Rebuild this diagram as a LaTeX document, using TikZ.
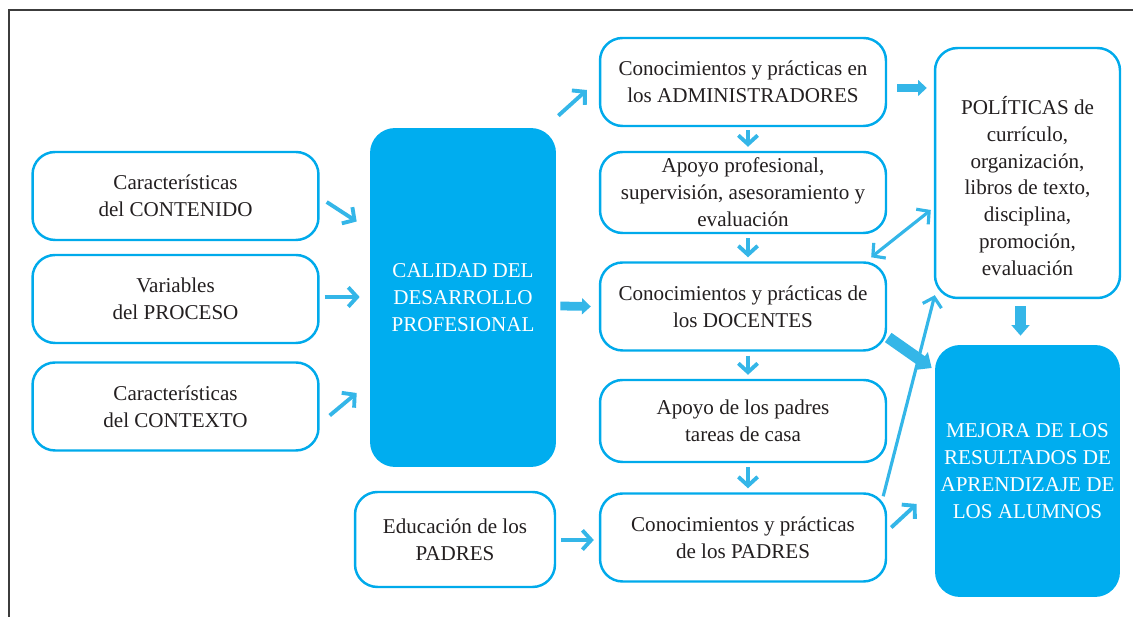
\documentclass[tikz,border=0pt]{standalone}
\usepackage{fontspec}
\setmainfont{Liberation Serif}
\usepackage{xcolor}
\usepackage{tikz}
\usetikzlibrary{arrows.meta,calc}
\definecolor{boxblue}{RGB}{0,170,235}
\definecolor{fillblue}{RGB}{0,173,239}
\definecolor{arrowblue}{RGB}{52,182,232}
\definecolor{textgray}{RGB}{35,31,32}
\definecolor{framegray}{RGB}{60,60,60}

\begin{document}
\begin{tikzpicture}[x=0.02cm,y=-0.02cm,
  font=\fontsize{12}{15.3}\selectfont,
  box/.style={draw=boxblue,line width=1.4pt,rounded corners=0.45cm,fill=white,
    text=textgray,align=center,inner sep=2pt,minimum width=5.72cm,minimum height=1.76cm},
  bigbox/.style={fill=fillblue,rounded corners=0.5cm,text=white,align=center,inner sep=2pt},
  arr/.style={draw=arrowblue,line width=2.2pt,-{Straight Barb[length=5pt,width=11pt]}},
  dblarr/.style={draw=arrowblue,line width=1.8pt,{Straight Barb[length=5pt,width=11pt]}-{Straight Barb[length=5pt,width=11pt]}},
  fatarr/.style={draw=arrowblue,line width=5pt,-{Triangle[length=5pt,width=9pt]}}]
\useasboundingbox (0,0) rectangle (1133,617);
\draw[framegray,line width=0.9pt] (1133,10) -- (9,10) -- (9,617);

\node[box] (cont) at (175.5,196) {Características\\del CONTENIDO};
\node[box] (proc) at (175.5,299) {Variables\\del PROCESO};
\node[box] (ctx) at (175.5,406.5) {Características\\del CONTEXTO};
\node[bigbox,minimum width=3.72cm,minimum height=6.78cm] (cal) at (463,297.5) {CALIDAD DEL\\DESARROLLO\\PROFESIONAL};
\node[box,minimum width=4cm,minimum height=1.9cm] (edu) at (455,539.5) {Educación de los\\PADRES};

\node[box] (adm) at (743,82) {Conocimientos y prácticas en\\los ADMINISTRADORES};
\node[box,minimum height=1.62cm] (apo) at (743,192.5) {Apoyo profesional,\\supervisión, asesoramiento y\\evaluación};
\node[box] (doc) at (743,306.5) {Conocimientos y prácticas de\\los DOCENTES};
\node[box,minimum height=1.64cm] (pad) at (743,421) {Apoyo de los padres\\tareas de casa};
\node[box] (cpa) at (743,537.5) {Conocimientos y prácticas\\de los PADRES};

\node[box,minimum width=3.7cm,minimum height=5cm,
  label={[text=textgray,align=center,yshift=-0.26cm]center:POLÍTICAS de\\currículo,\\organización,\\libros de texto,\\disciplina,\\promoción,\\evaluación}] (pol) at (1027.5,173) {};
\node[bigbox,minimum width=3.7cm,minimum height=5.04cm] (mej) at (1027.5,471) {MEJORA DE LOS\\RESULTADOS DE\\APRENDIZAJE DE\\LOS ALUMNOS};

\draw[arr] ($(cont.east)+(7,6)$) -- ($(cal.west)+(-13,-76)$);
\draw[arr] ($(proc.east)+(5,-2)$) -- ($(cal.west)+(-10,-0.5)$);
\draw[arr] ($(ctx.east)+(10,9)$) -- ($(cal.west)+(-13,95.5)$);
\draw[fatarr] ($(cal.east)+(4,8.5)$) -- ($(doc.west)+(-8,0)$);
\draw[arr] ($(cal.north east)+(2,-12)$) -- ($(adm.west)+(-12,8)$);
\draw[arr] ($(adm.south)+(5,3)$) -- ($(apo.north)+(5,-4)$);
\draw[arr] ($(apo.south)+(5,4)$) -- ($(doc.north)+(5,-4)$);
\draw[arr] ($(doc.south)+(5,4)$) -- ($(pad.north)+(5,-4)$);
\draw[arr] ($(pad.south)+(5,4)$) -- ($(cpa.north)+(5,-4)$);
\draw[arr] ($(edu.east)+(5,0.5)$) -- ($(cpa.west)+(-5,2.5)$);
\draw[fatarr] ($(adm.east)+(10,6)$) -- ($(pol.west)+(-7,-85)$);
\draw[dblarr] ($(doc.north east)+(-16,-4)$) -- ($(pol.west)+(-3,37)$);
\draw[fatarr,line width=6.5pt,-{Triangle[length=7pt,width=12pt]}] ($(doc.east)+(1,31)$) -- ($(mej.west)+(-3,-103)$);
\draw[arr,line width=1.8pt] ($(cpa.north east)+(-4,4)$) -- ($(pol.south west)+(1,-4)$);
\draw[arr] ($(cpa.east)+(4,-10)$) -- ($(mej.west)+(-18,33)$);
\draw[fatarr,line width=6pt,-{Triangle[length=6pt,width=10pt]}] ($(pol.south)+(-7,7)$) -- ($(mej.north)+(-7,-9)$);
\end{tikzpicture}
\end{document}
